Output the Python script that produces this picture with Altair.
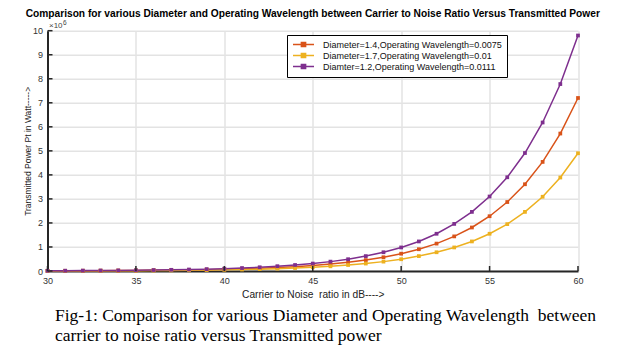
import altair as alt
import pandas as pd

# ---------------- data (power in units of 10^6 W) ----------------
snr_db = list(range(30, 61))
power_d14 = [0.007, 0.009, 0.011, 0.014, 0.018, 0.023, 0.029, 0.036, 0.045, 0.057,
             0.072, 0.091, 0.114, 0.144, 0.181, 0.228, 0.287, 0.361, 0.454, 0.572,
             0.72, 0.906, 1.14, 1.44, 1.81, 2.28, 2.87, 3.61, 4.54, 5.72, 7.20]
power_d17 = [0.005, 0.006, 0.008, 0.010, 0.012, 0.015, 0.020, 0.025, 0.031, 0.039,
             0.049, 0.062, 0.078, 0.098, 0.123, 0.155, 0.195, 0.25, 0.31, 0.39,
             0.49, 0.62, 0.78, 0.98, 1.23, 1.55, 1.95, 2.46, 3.09, 3.89, 4.90]
power_d12 = [0.010, 0.012, 0.016, 0.020, 0.025, 0.031, 0.039, 0.049, 0.062, 0.078,
             0.098, 0.123, 0.155, 0.20, 0.25, 0.31, 0.39, 0.49, 0.62, 0.78,
             0.98, 1.23, 1.55, 1.96, 2.46, 3.10, 3.90, 4.91, 6.18, 7.78, 9.80]

series_names = ["Diameter=1.4,Operating Wavelength=0.0075",
                "Diameter=1.7,Operating Wavelength=0.01",
                "Diamter=1.2,Operating Wavelength=0.0111"]
series_colors = ["#D95319", "#EDB120", "#7E2F8E"]

x_ticks = [30, 35, 40, 45, 50, 55, 60]
y_ticks = [0, 1, 2, 3, 4, 5, 6, 7, 8, 9, 10]

chart_title = ("Comparison for various Diameter and Operating Wavelength between "
               "Carrier to Noise Ratio Versus Transmitted Power")
x_title = "Carrier to Noise\u00a0 ratio in dB---->"
y_title = "Transmitted Power Pt in Watt----->"
exp_base = "×10"
exp_power = "6"
caption_lines = ["Fig-1: Comparison for various Diameter and Operating Wavelength\u00a0 between",
                 "carrier to noise ratio versus Transmitted power"]

# ---------------- build ----------------
FONT = "Liberation Sans"
SERIF = "Liberation Serif"
W, H = 530.5, 240.3

rows = []
for name, vals in zip(series_names, [power_d14, power_d17, power_d12]):
    for x, v in zip(snr_db, vals):
        rows.append({"snr": x, "power": v, "series": name})
df = pd.DataFrame(rows)

xscale = alt.Scale(domain=[30, 60], nice=False, zero=False)
yscale = alt.Scale(domain=[0, 10], nice=False)

x_enc = alt.X("snr:Q", scale=xscale,
              axis=alt.Axis(values=x_ticks, title=x_title, grid=True,
                            gridColor="#e3e3e3", gridWidth=1.5, tickSize=0,
                            labelPadding=5, labelFontSize=9, labelColor="#333333",
                            labelFont=FONT, titleFont=FONT, titleFontSize=10.2,
                            titleFontWeight="normal", titleColor="#222222",
                            titlePadding=4, domainColor="#262626", domainWidth=2,
                            labelFlush=False))
y_enc = alt.Y("power:Q", scale=yscale,
              axis=alt.Axis(values=y_ticks, title=y_title, grid=True,
                            gridColor="#e3e3e3", gridWidth=1.5, tickSize=0,
                            labelPadding=5, labelFontSize=9, labelColor="#333333",
                            labelFont=FONT, titleFont=FONT, titleFontSize=8.5,
                            titleFontWeight="normal", titleColor="#222222",
                            titlePadding=0, domainColor="#262626", domainWidth=2,
                            labelFlush=False))

legend = alt.Legend(
    title=None, orient="none", legendX=239.5, legendY=4.3, direction="vertical",
    symbolType="M-3,0H3M-0.6,-0.6H0.6V0.6H-0.6Z", symbolSize=49,
    symbolStrokeWidth=1.5, symbolOffset=7, labelFont=FONT, labelFontSize=9,
    labelColor="#111111", labelOffset=15, labelLimit=400, padding=5, rowPadding=0,
    fillColor="white", strokeColor="black",
)

lines = alt.Chart(df).mark_line(
    strokeWidth=1.5,
    point=alt.OverlayMarkDef(shape="square", filled=True, size=14, opacity=1),
).encode(
    x=x_enc, y=y_enc,
    color=alt.Color("series:N", scale=alt.Scale(domain=series_names, range=series_colors),
                    legend=legend),
)

xt = alt.Chart(pd.DataFrame({"snr": x_ticks})).mark_rule(color="#262626", strokeWidth=1.5).encode(
    x=x_enc, y=alt.value(H), y2=alt.value(H - 5))
yt = alt.Chart(pd.DataFrame({"power": y_ticks})).mark_rule(color="#262626", strokeWidth=1.5).encode(
    y=y_enc, x=alt.value(0), x2=alt.value(5))

exp1 = alt.Chart(pd.DataFrame({"t": [exp_base]})).mark_text(
    font=FONT, fontSize=8, color="#444444", align="left", baseline="middle"
).encode(text="t:N", x=alt.value(1.5), y=alt.value(-4.5))
exp2 = alt.Chart(pd.DataFrame({"t": [exp_power]})).mark_text(
    font=FONT, fontSize=6.5, color="#444444", align="left", baseline="middle"
).encode(text="t:N", x=alt.value(15.5), y=alt.value(-8))

caption = alt.Chart(pd.DataFrame({"t": ["\n".join(caption_lines)]})).mark_text(
    font=SERIF, fontSize=17.5, color="black", align="left", baseline="alphabetic",
    lineBreak="\n", lineHeight=19.5
).encode(text="t:N", x=alt.value(7.5), y=alt.value(290.3))

chart = alt.layer(lines, xt, yt, exp1, exp2, caption).properties(
    width=W, height=H,
    padding={"left": 47.5, "top": 30.7, "right": 40, "bottom": 81},
    autosize=alt.AutoSizeParams(type="none"),
    title=alt.TitleParams(text=chart_title, font=FONT, fontSize=10.2, fontWeight="bold",
                          color="black", anchor="middle", frame="group", offset=10, dy=9.5),
).configure_view(stroke=None)

chart.save("out.html", embed_options={"renderer": "svg", "actions": False})
